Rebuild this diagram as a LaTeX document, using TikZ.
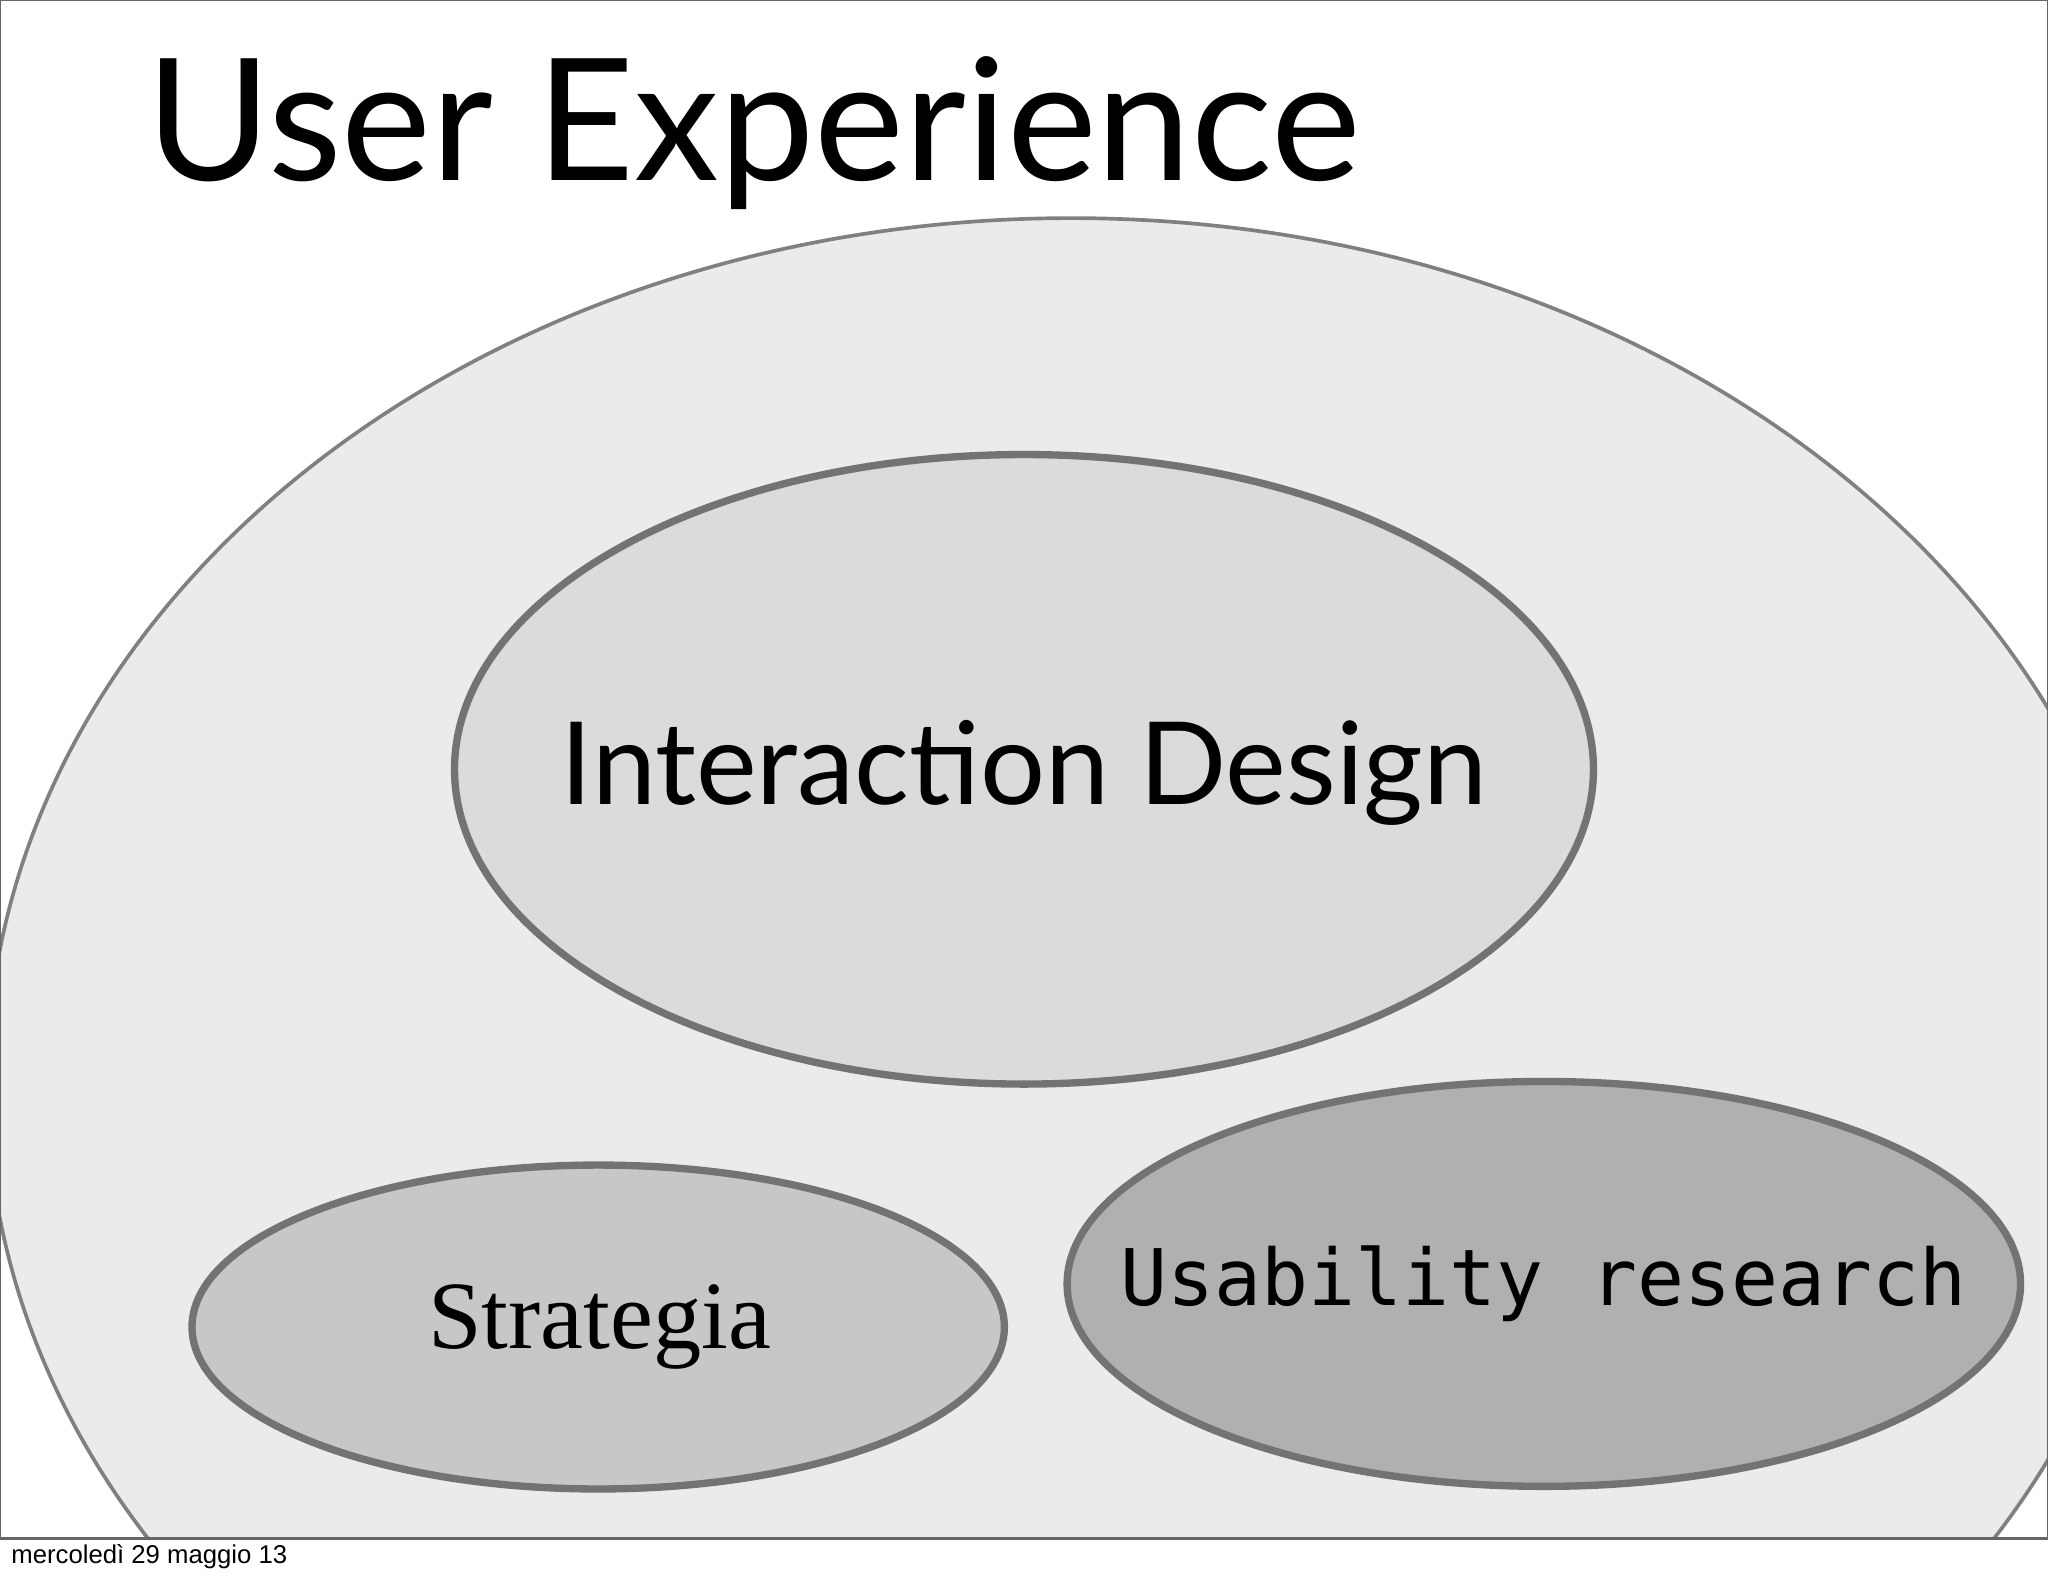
\documentclass[tikz,border=0pt]{standalone}
\usepackage{fontspec}
\setmainfont{Lato}
\newfontfamily\serifx{Liberation Serif}
\newfontfamily\monox{DejaVu Sans Mono}
\newfontfamily\sansx{Liberation Sans}
\begin{document}
\begin{tikzpicture}[x=0.01cm,y=-0.01cm,
  blob/.style={draw=black!55,line width=1.6pt}]
\useasboundingbox (0,0) rectangle (1568,1206);
\fill[white] (0,0) rectangle (1568,1206);
\begin{scope}
\clip (0,0) rectangle (1568,1178);
\draw[fill=black!8,draw=black!50,line width=0.8pt] (820,830) ellipse [x radius=830,y radius=663];
\end{scope}
\draw[black!60,line width=0.6pt] (0,0) rectangle (1568,1178);
\node[anchor=west,font=\fontsize{37}{40}\selectfont] (title) at (100,102) {User Experience};
\draw[blob,fill=black!14] (784,589) ellipse [x radius=436,y radius=241];
\node[font=\fontsize{25}{28}\selectfont] (id) at (784,592) {Interaction Design};
\draw[blob,fill=black!22] (458,1016) ellipse [x radius=311,y radius=124];
\node[font=\serifx\fontsize{21}{24}\selectfont] (st) at (459,1016) {Strategia};
\draw[blob,fill=black!31] (1182,983) ellipse [x radius=365,y radius=155];
\node[font=\monox\fontsize{17}{20}\selectfont] (ur) at (1182,983) {Usability research};
\node[anchor=west,font=\sansx\fontsize{5.6}{7}\selectfont,inner sep=0pt] (ft) at (8,1192) {mercoledì 29 maggio 13};
\end{tikzpicture}
\end{document}
